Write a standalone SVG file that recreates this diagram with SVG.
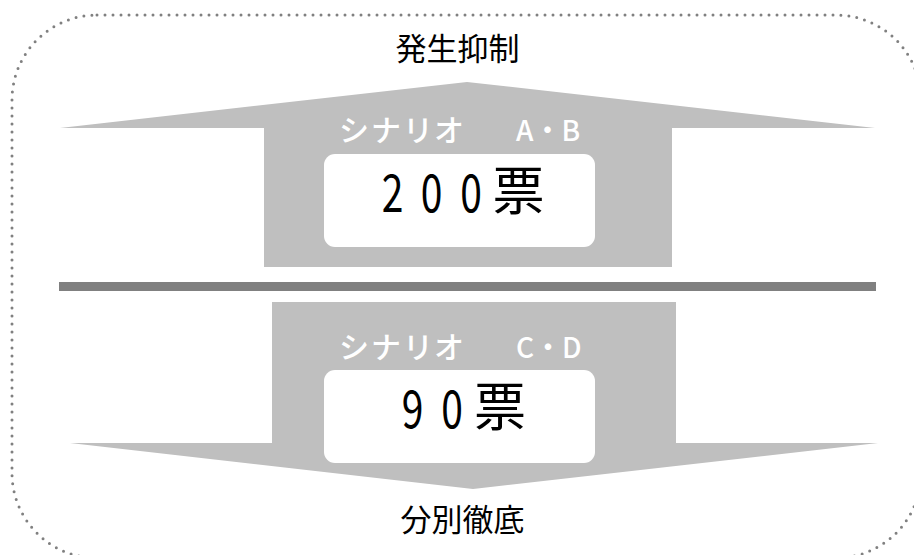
<svg xmlns="http://www.w3.org/2000/svg" width="914" height="555" viewBox="0 0 914 555">
  <style>
    .arrow { fill: #bfbfbf; }
    .box { fill: #ffffff; }
    .label { font-family: "Noto Sans CJK JP", "Noto Sans", sans-serif; fill: #000000; }
    .scen { font-family: "Noto Sans CJK JP", "Noto Sans", sans-serif; font-weight: 500; font-size: 28px; fill: #ffffff; }
    .kana { font-size: 30px; }
    .big { font-family: "Noto Sans CJK JP", "Noto Sans", sans-serif; font-size: 52px; fill: #000000; text-anchor: middle; }
  </style>
  <rect id="frame" x="12" y="15" width="909" height="543" rx="85" ry="85" fill="none" stroke="#808080" stroke-width="3" stroke-linecap="round" stroke-dasharray="0 8"/>

  <g id="connectors">
    <polygon id="arrow-up" class="arrow" points="60,128 467,82 875,128 672,128 672,267 264,267 264,128"/>
    <polygon id="arrow-down" class="arrow" points="272,302 676,302 676,443 878,443 473,489 70,443 272,443"/>
    <rect id="separator" x="59" y="282" width="817" height="9" fill="#808080"/>
  </g>

  <g id="top-label">
    <text class="label" x="457.5" y="60" font-size="31" text-anchor="middle">発生抑制</text>
  </g>

  <g id="scenario-ab">
    <text class="scen" y="141"><tspan class="kana" x="339 371 403 434">シナリオ</tspan><tspan x="516">A・B</tspan></text>
    <rect class="box" x="324" y="154" width="271" height="93" rx="11" ry="11"/>
    <text class="big" transform="translate(392.5,212) scale(0.75,1)" x="0" y="0">2</text>
    <text class="big" transform="translate(431.5,212) scale(0.75,1)" x="0" y="0">0</text>
    <text class="big" transform="translate(471,212) scale(0.75,1)" x="0" y="0">0</text>
    <text class="big" x="518.5" y="210">票</text>
  </g>

  <g id="scenario-cd">
    <text class="scen" y="358"><tspan class="kana" x="339 371 403 434">シナリオ</tspan><tspan x="516">C・D</tspan></text>
    <rect class="box" x="324" y="370" width="271" height="93" rx="11" ry="11"/>
    <text class="big" transform="translate(412.5,428) scale(0.75,1)" x="0" y="0">9</text>
    <text class="big" transform="translate(452,428) scale(0.75,1)" x="0" y="0">0</text>
    <text class="big" x="500" y="426">票</text>
  </g>

  <g id="bottom-label">
    <text class="label" x="462.5" y="531" font-size="31" text-anchor="middle">分別徹底</text>
  </g>
</svg>
